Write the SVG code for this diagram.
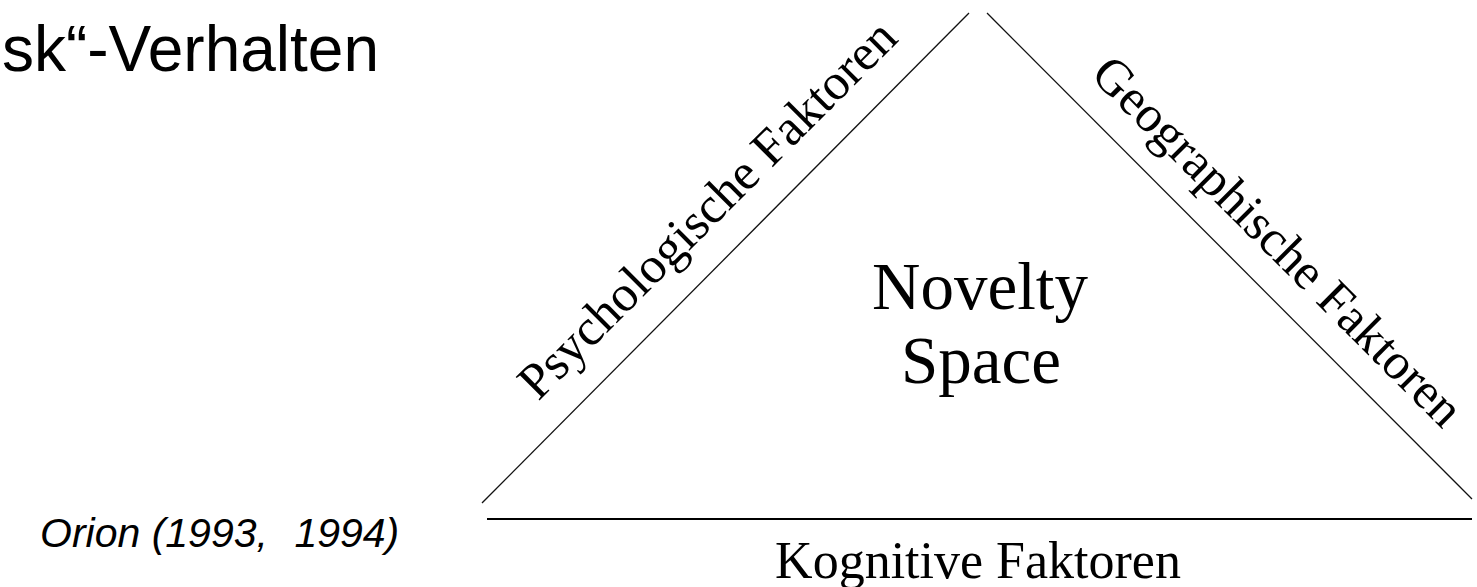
<svg xmlns="http://www.w3.org/2000/svg" width="1477" height="587" viewBox="0 0 1477 587">
<style>
.sans{font-family:"Liberation Sans",Arial,sans-serif;fill:#000}
.serif{font-family:"Liberation Serif","Times New Roman",serif;fill:#000}
.edge{stroke:#111;stroke-width:1.3;fill:none}
.base{stroke:#000;stroke-width:2;fill:none}
</style>
<rect width="1477" height="587" fill="#fff"/>
<g id="title"><text class="sans" x="379" y="71" font-size="64" text-anchor="end">sk“-Verhalten</text></g>
<g id="citation"><text class="sans" y="547" font-size="41" font-style="italic"><tspan x="40">Orion (1993,</tspan><tspan x="283"> 1994)</tspan></text></g>
<g id="connectors">
<line class="edge" x1="482" y1="503" x2="969" y2="13"/>
<line class="edge" x1="987" y1="13" x2="1472" y2="499"/>
<line class="base" x1="487" y1="519" x2="1472" y2="519"/>
</g>
<g id="center"><text class="serif" font-size="67" text-anchor="middle"><tspan x="980" y="309">Novelty</tspan><tspan x="981" y="383">Space</tspan></text></g>
<g id="left-label"><text class="serif" font-size="51" text-anchor="middle" transform="translate(719,221) rotate(-45)">Psychologische Faktoren</text></g>
<g id="right-label"><text class="serif" font-size="51" text-anchor="middle" transform="translate(1266,253) rotate(45)">Geographische Faktoren</text></g>
<g id="bottom-label"><text class="serif" x="978" y="578" font-size="52" text-anchor="middle">Kognitive Faktoren</text></g>
</svg>
